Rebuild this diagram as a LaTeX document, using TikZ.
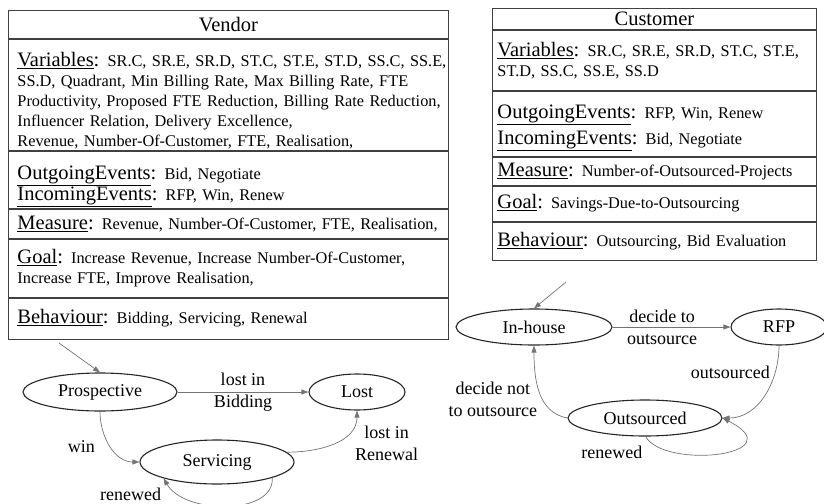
\documentclass[tikz,border=0pt]{standalone}
\usepackage{fontspec}
\setmainfont{Liberation Serif}
\usetikzlibrary{arrows.meta,shapes.geometric}

\newcommand{\keyfont}{\fontsize{20.5}{22}\selectfont}
\newcommand{\txtfont}{\fontsize{16.3}{20}\selectfont}
\newcommand{\kwd}[1]{{\keyfont\underline{#1}:}}
\newcommand{\padtop}[1]{\rule{0pt}{#1}}

\tikzset{
	cell/.style={draw=black!75, line width=0.9pt, anchor=north west, inner xsep=9pt, inner ysep=2pt, align=left, font=\txtfont},
	state/.style={draw=black!85, ellipse, line width=1.1pt, inner sep=0pt, font=\fontsize{18}{20}\selectfont},
	trans/.style={draw=black!55, line width=0.7pt, -{Triangle[length=7pt,width=5pt]}},
	lbl/.style={font=\fontsize{18}{22}\selectfont, align=center, inner sep=1pt}
}

\begin{document}
\begin{tikzpicture}[x=1pt, y=-1pt]
	\useasboundingbox (0,0) rectangle (824,503);

	% Vendor
	\node[cell, text width=422pt, minimum height=28pt, align=center] (vendor) at (8,10) {\keyfont Vendor};
	\node[cell, text width=422pt, minimum height=111pt, inner ysep=0pt] (vendorVars) at (vendor.south west)
		{\mbox{\padtop{26.5pt}\kwd{Variables} SR.C, SR.E, SR.D, ST.C, ST.E, ST.D, SS.C, SS.E,}\\
		\mbox{SS.D, Quadrant, Min Billing\ Rate, Max Billing\ Rate, FTE}\\
		\mbox{Productivity, Proposed FTE Reduction, Billing\ Rate Reduction,}\\
		\mbox{Influencer Relation, Delivery\ Excellence,}\\
		\mbox{Revenue, Number-Of-Customer, FTE, Realisation,}};
	\node[cell, text width=422pt, minimum height=57pt, inner ysep=0pt] (vendorEvents) at (vendorVars.south west)
		{\padtop{27.5pt}\kwd{OutgoingEvents} Bid, Negotiate\\[1pt]
		\kwd{IncomingEvents} RFP, Win, Renew};
	\node[cell, text width=422pt, minimum height=29pt] (vendorMeasure) at (vendorEvents.south west)
		{\mbox{\kwd{Measure} Revenue, Number-Of-Customer, FTE, Realisation,}};
	\node[cell, text width=422pt, minimum height=58pt] (vendorGoal) at (vendorMeasure.south west)
		{\mbox{\kwd{Goal} Increase Revenue, Increase Number-Of-Customer,}\\
		Increase FTE, Improve Realisation,};
	\node[cell, text width=422pt, minimum height=41pt] (vendorBehaviour) at (vendorGoal.south west)
		{\kwd{Behaviour} Bidding, Servicing, Renewal};

	% Customer
	\node[cell, text width=314pt, inner xsep=5pt, minimum height=21pt, align=center] (customer) at (492,8) {\keyfont Customer};
	\node[cell, text width=314pt, inner xsep=5pt, minimum height=60pt] (customerVars) at (customer.south west)
		{\mbox{\kwd{Variables} SR.C, SR.E, SR.D, ST.C, ST.E,}\\
		ST.D, SS.C, SS.E, SS.D};
	\node[cell, text width=314pt, inner xsep=5pt, minimum height=65pt] (customerEvents) at (customerVars.south west)
		{\padtop{22.5pt}\kwd{OutgoingEvents} RFP, Win, Renew\\[6pt]
		\kwd{IncomingEvents} Bid, Negotiate};
	\node[cell, text width=314pt, inner xsep=5pt, minimum height=28pt] (customerMeasure) at (customerEvents.south west)
		{\mbox{\kwd{Measure} Number-of-Outsourced-Projects}};
	\node[cell, text width=314pt, inner xsep=5pt, minimum height=35pt] (customerGoal) at (customerMeasure.south west)
		{\kwd{Goal} Savings-Due-to-Outsourcing};
	\node[cell, text width=314pt, inner xsep=5pt, minimum height=38pt] (customerBehaviour) at (customerGoal.south west)
		{\mbox{\kwd{Behaviour} Outsourcing, Bid Evaluation}};

	% vendor states
	\coordinate (vendorStart) at (59,343);
	\node[state, minimum width=154pt, minimum height=38pt] (prospective) at (100,392) {Prospective};
	\node[state, minimum width=96pt, minimum height=36pt] (lost) at (357,392) {Lost};
	\node[state, minimum width=154pt, minimum height=44pt] (servicing) at (217,462) {Servicing};

	\draw[trans] (vendorStart) -- (prospective.north);
	\draw[trans] (prospective) -- node[lbl] (lostBidding) {lost in\\Bidding} (lost);
	\draw[trans] (prospective.south) to[out=-90, in=180] node[lbl, pos=0.5, left=14pt] (win) {win} (servicing.west);
	\draw[trans] (servicing.8) to[out=0, in=-90] node[lbl, pos=0.5, right=20pt] (lostRenewal) {lost in\\Renewal} (lost.south);
	\draw[trans] (servicing.-16) .. controls (275,515) and (185,515) .. node[lbl, at end, anchor=north east, xshift=-1pt, yshift=-8pt] (vendorRenewed) {renewed} (servicing.-163);

	% customer states
	\coordinate (customerStart) at (566,282);
	\node[state, minimum width=156pt, minimum height=36pt] (inhouse) at (534,327) {In-house};
	\node[state, minimum width=96pt, minimum height=36pt] (rfp) at (779,327) {RFP};
	\node[state, minimum width=154pt, minimum height=36pt] (outsourced) at (645,418) {Outsourced};

	\draw[trans] (customerStart) -- (inhouse.north);
	\draw[trans] (inhouse) -- node[lbl, pos=0.42] (decideTo) {decide to\\outsource} (rfp);
	\draw[trans] (rfp.south) to[out=-90, in=0] node[lbl, pos=0.25, left=4pt] (outsourcedLbl) {outsourced} (outsourced.east);
	\draw[trans] (outsourced.west) to[out=170, in=-90] node[lbl, pos=0.4, left=4pt] (decideNot) {decide not\\to outsource} (inhouse.south);
	\draw[trans] (outsourced.-88) .. controls (665,470) and (795,455) .. node[lbl, at start, anchor=north east, xshift=-2pt, yshift=-8pt] (customerRenewed) {renewed} (outsourced.east);
\end{tikzpicture}
\end{document}
